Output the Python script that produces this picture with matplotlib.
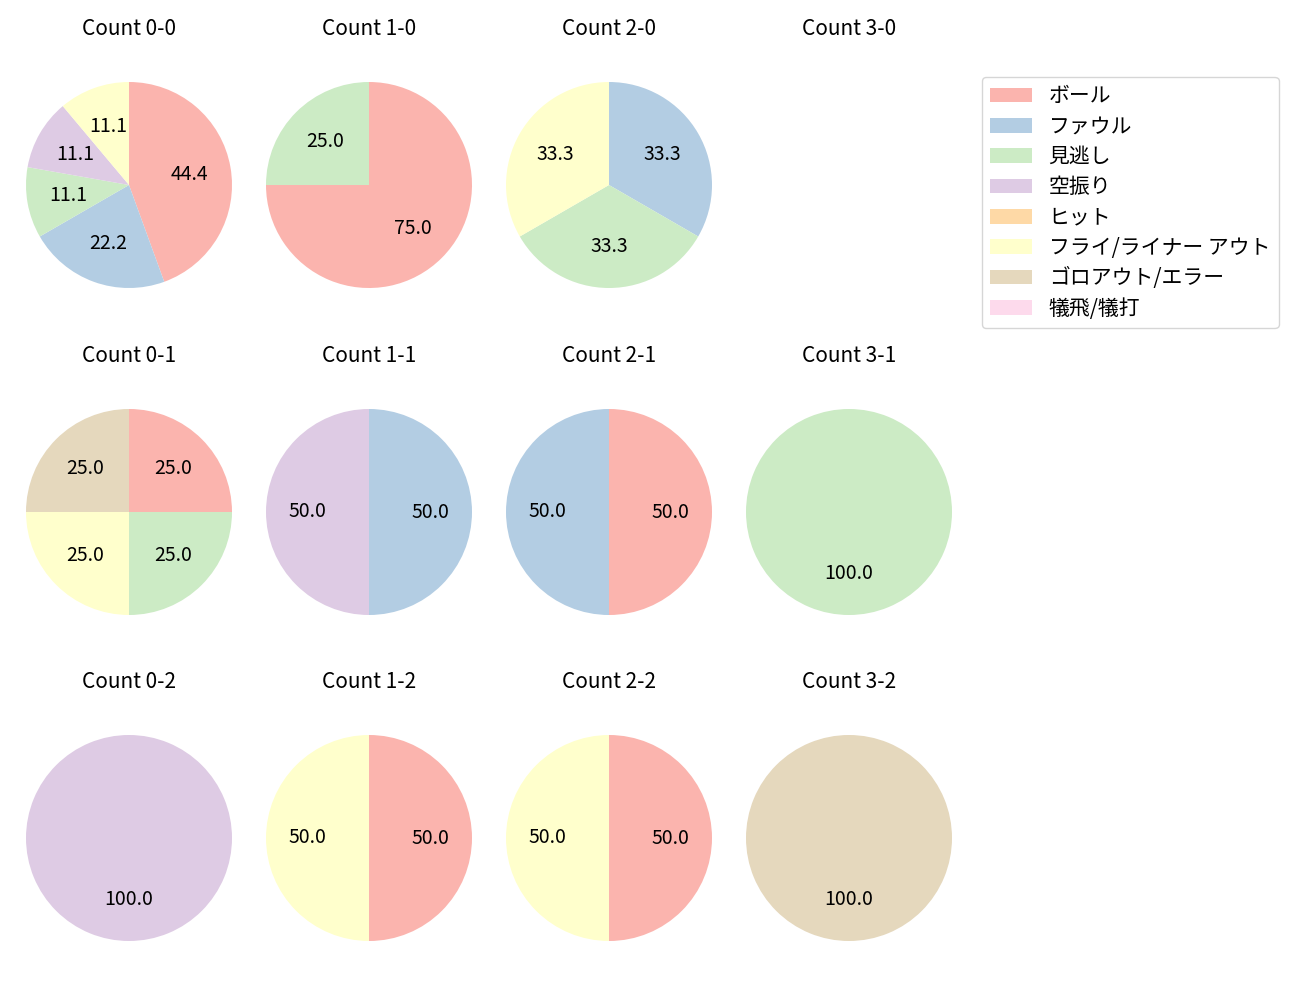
import matplotlib
matplotlib.use("Agg")
import matplotlib.pyplot as plt
from matplotlib.patches import Patch

plt.rcParams['font.family'] = ['Noto Sans CJK JP', 'DejaVu Sans']

categories = ['ボール', 'ファウル', '見逃し', '空振り', 'ヒット',
              'フライ/ライナー アウト', 'ゴロアウト/エラー', '犠飛/犠打']
colors = plt.get_cmap('Pastel1').colors[:8]

counts = ['0-0', '1-0', '2-0', '3-0',
          '0-1', '1-1', '2-1', '3-1',
          '0-2', '1-2', '2-2', '3-2']
# values per category in order of `categories`
c00 = [4, 2, 1, 1, 0, 1, 0, 0]
c10 = [3, 0, 1, 0, 0, 0, 0, 0]
c20 = [0, 1, 1, 0, 0, 1, 0, 0]
c30 = [0, 0, 0, 0, 0, 0, 0, 0]
c01 = [1, 0, 1, 0, 0, 1, 1, 0]
c11 = [0, 1, 0, 1, 0, 0, 0, 0]
c21 = [1, 1, 0, 0, 0, 0, 0, 0]
c31 = [0, 0, 1, 0, 0, 0, 0, 0]
c02 = [0, 0, 0, 1, 0, 0, 0, 0]
c12 = [1, 0, 0, 0, 0, 1, 0, 0]
c22 = [1, 0, 0, 0, 0, 1, 0, 0]
c32 = [0, 0, 0, 0, 0, 0, 1, 0]
data = [c00, c10, c20, c30, c01, c11, c21, c31, c02, c12, c22, c32]

fig = plt.figure(figsize=(13, 10), dpi=100)
W, H = 1300, 1000
radius_px = 103
box = radius_px * 2.5
col_cx = [129, 369, 609, 849]
row_cy = [185, 512, 838]

for i, (cnt, vals) in enumerate(zip(counts, data)):
    r, c = divmod(i, 4)
    cx, cy = col_cx[c], row_cy[r]
    ax = fig.add_axes([(cx - box / 2) / W, 1 - (cy + box / 2) / H, box / W, box / H])
    v = [x for x in vals if x > 0]
    col = [colors[k] for k, x in enumerate(vals) if x > 0]
    if v:
        ax.pie(v, colors=col, autopct='%.1f', startangle=90, counterclock=False,
               textprops={'fontsize': 14})
    else:
        ax.set_xlim(-1.25, 1.25)
        ax.set_ylim(-1.25, 1.25)
        ax.set_aspect('equal')
    ax.axis('off')
    ax.set_title('Count ' + cnt, fontsize=15, y=1.0, pad=15)

handles = [Patch(facecolor=colors[k], label=categories[k]) for k in range(8)]
fig.legend(handles=handles, loc='upper left', bbox_to_anchor=(982 / W, 1 - 77 / H),
           fontsize=15, borderaxespad=0, labelspacing=0.4)

fig.savefig('out.png', dpi=100)
